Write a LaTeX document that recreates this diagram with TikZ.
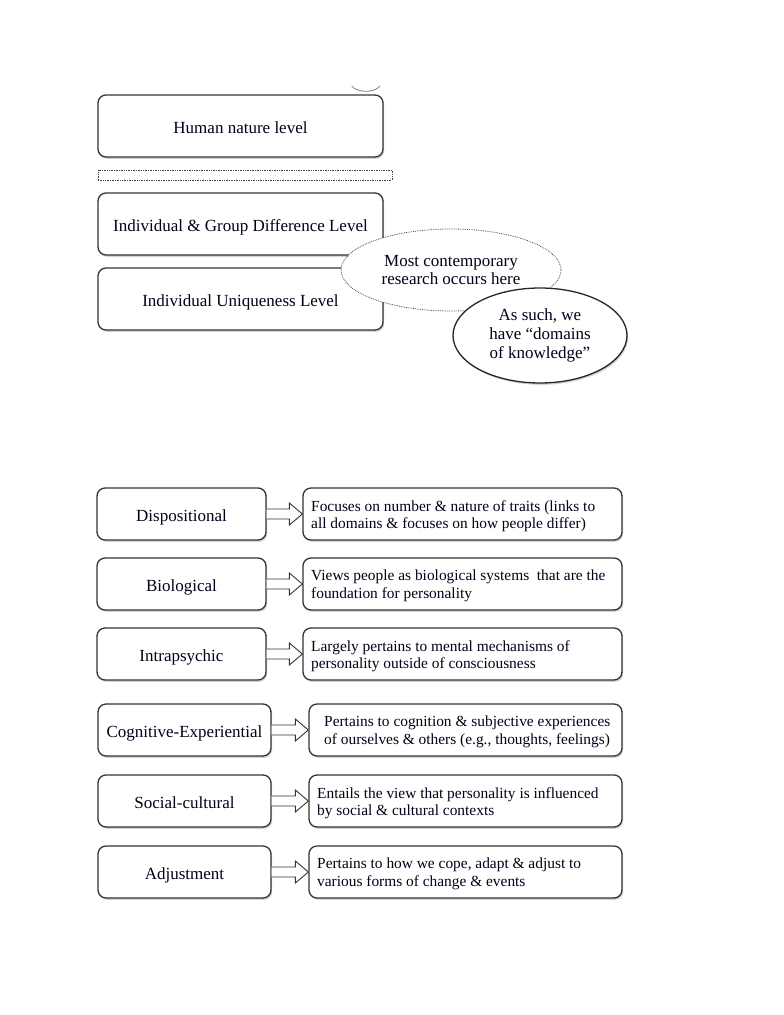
\documentclass[tikz,border=0pt]{standalone}
\usepackage{fontspec}
\setmainfont{Liberation Serif}
\usetikzlibrary{shapes.geometric,shadows,calc}
\begin{document}
\begin{tikzpicture}[x=1pt,y=-1pt,
  every node/.style={font=\fontsize{17}{19}\selectfont, text=black!90!blue},
  box/.style={draw=black!80, line width=1.3pt, rounded corners=8pt, fill=white,
     drop shadow={shadow xshift=1.2pt, shadow yshift=-1.8pt, opacity=0.35}},
  lowtext/.style={text height=14pt, text depth=0pt},
  hollowarrow/.style={draw=black!80, line width=0.9pt, fill=white, line join=miter},
  lbl/.style={anchor=west, align=left, inner sep=0pt, font=\fontsize{15.4}{17.5}\selectfont}]
\useasboundingbox[fill=white] (0,0) rectangle (784,1015);

% top section
\draw[black!45, line width=0.9pt] (380,86) arc[start angle=20, end angle=160, x radius=15, y radius=8];
\node[box, minimum width=285pt, minimum height=62pt, lowtext] (hn) at (240.5,126) {Human nature level};
\node[draw=black!75, densely dotted, line width=0.7pt, minimum width=294pt, minimum height=10pt, inner sep=0pt] (dot) at (245,175) {};
\node[box, minimum width=285pt, minimum height=62pt, lowtext] (ig) at (240.5,224) {Individual \& Group Difference Level};
\node[box, minimum width=285pt, minimum height=62pt, lowtext] (iu) at (240.5,299) {Individual Uniqueness Level};
\node[ellipse, draw=black!70, densely dotted, line width=0.8pt, fill=white, minimum width=220pt, minimum height=82pt, inner sep=0pt, align=center, font=\fontsize{17}{18}\selectfont] (e1) at (451,270) {Most contemporary\\research occurs here};
\node[ellipse, draw=black!85, line width=1.3pt, fill=white, minimum width=174pt, minimum height=95pt, inner sep=0pt, align=center,
  drop shadow={shadow xshift=1.2pt, shadow yshift=-1.8pt, opacity=0.35}] (e2) at (540,335.5) {As such, we\\have “domains\\of knowledge”};

% domains
\foreach \n/\y/\lx/\lw/\rx/\tx/\ttl/\desc in {
  d1/514/181.5/169/462.5/311/Dispositional/{Focuses on number \& nature of traits (links to\\all domains \& focuses on how people differ)},
  d2/584/181.5/169/462.5/311/Biological/{Views people as biological systems\ \ that are the\\foundation for personality},
  d3/654/181.5/169/462.5/311/Intrapsychic/{Largely pertains to mental mechanisms of\\personality outside of consciousness},
  d4/730/184.5/173/465.5/324/Cognitive-Experiential/{Pertains to cognition \& subjective experiences\\of ourselves \& others (e.g., thoughts, feelings)},
  d5/801/184.5/173/465.5/317/Social-cultural/{Entails the view that personality is influenced\\by social \& cultural contexts},
  d6/872/184.5/173/465.5/317/Adjustment/{Pertains to how we cope, adapt \& adjust to\\various forms of change \& events}}{
  \node[box, minimum width=\lw pt, minimum height=52pt, lowtext] (\n L) at (\lx,\y) {\ttl};
  \pgfmathsetmacro{\rw}{2*(622-\rx)}
  \node[box, minimum width=\rw pt, minimum height=52pt] (\n R) at (\rx,\y) {};
  \node[lbl] (\n T) at (\tx,\y+2) {\desc};
  \draw[hollowarrow] ($(\n L.east)+(0,-5)$) -- ($(\n R.west)+(-13,-5)$) -- ($(\n R.west)+(-13,-11)$)
     -- (\n R.west) -- ($(\n R.west)+(-13,11)$) -- ($(\n R.west)+(-13,5)$) -- ($(\n L.east)+(0,5)$);
}
\end{tikzpicture}
\end{document}
